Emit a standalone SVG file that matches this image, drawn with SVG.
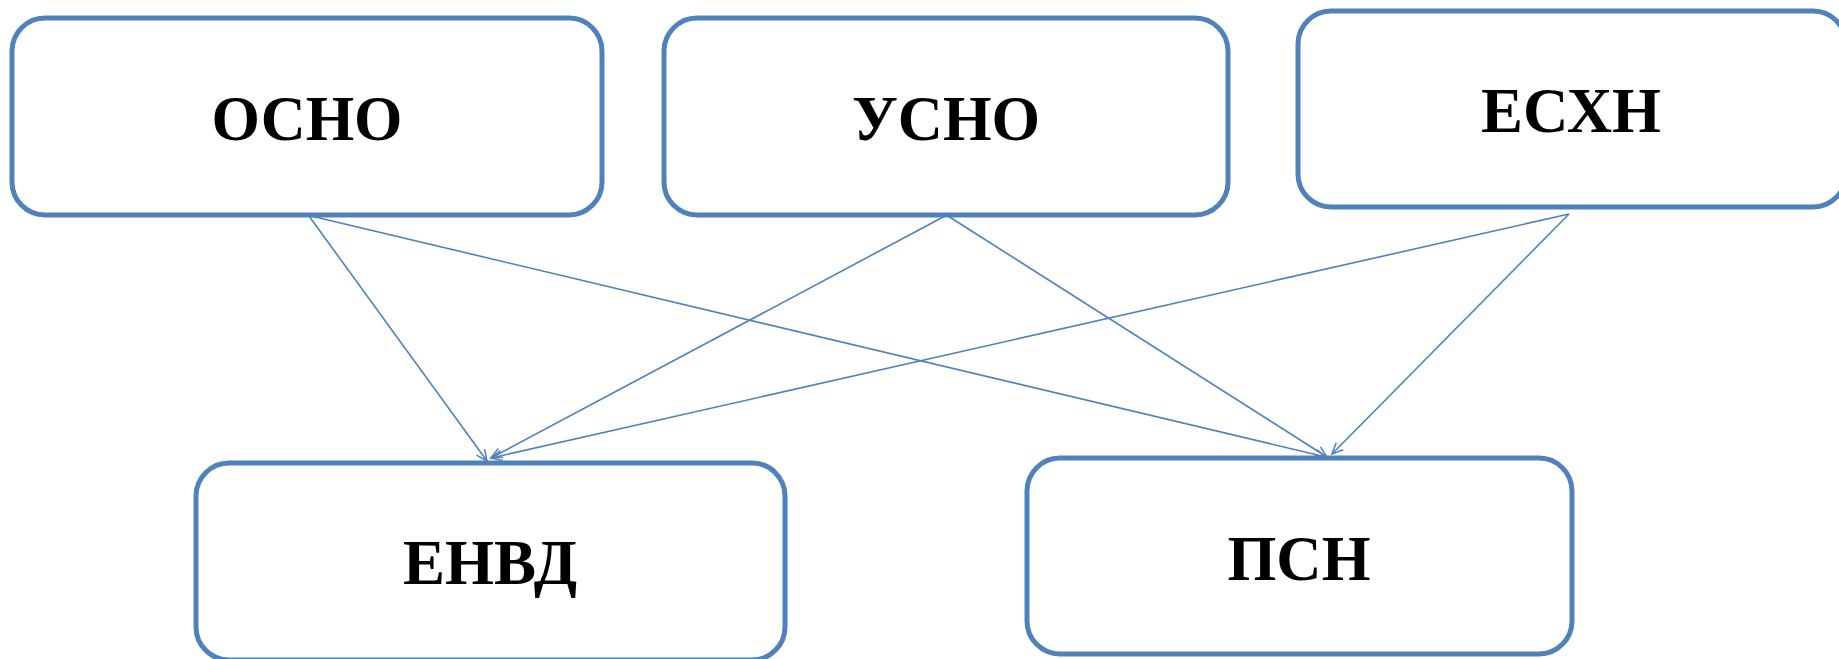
<svg xmlns="http://www.w3.org/2000/svg" width="1839" height="659" viewBox="0 0 1839 659">
<style>
.box{fill:#FFFFFF;stroke:#4F81BD;stroke-width:5}
.lbl{font-family:"Liberation Serif","Times New Roman",serif;font-weight:bold;font-size:64px;fill:#000000;text-anchor:middle}
.con{stroke:#4F81BD;stroke-width:1.6;fill:none}
</style>
<defs>
<marker id="arr" markerUnits="userSpaceOnUse" markerWidth="14" markerHeight="12" refX="12" refY="6" orient="auto">
<path d="M1,1 L12,6 L1,11" fill="none" stroke="#4F81BD" stroke-width="1.5"/>
</marker>
</defs>
<rect width="1839" height="659" fill="#FFFFFF"/>
<g id="connectors">
<line class="con" x1="309" y1="216" x2="487" y2="461" marker-end="url(#arr)"/>
<line class="con" x1="311" y1="216" x2="1326" y2="457" marker-end="url(#arr)"/>
<line class="con" x1="945" y1="216" x2="491" y2="458" marker-end="url(#arr)"/>
<line class="con" x1="948" y1="216" x2="1327" y2="457" marker-end="url(#arr)"/>
<line class="con" x1="1569" y1="214" x2="491" y2="458" marker-end="url(#arr)"/>
<line class="con" x1="1569" y1="214" x2="1332" y2="454" marker-end="url(#arr)"/>
</g>
<g id="node-osno">
<rect class="box" x="12" y="18" width="590" height="197" rx="33"/>
<text class="lbl" x="307" y="140" textLength="191" lengthAdjust="spacingAndGlyphs">ОСНО</text>
</g>
<g id="node-usno">
<rect class="box" x="664" y="18" width="564" height="197" rx="33"/>
<text class="lbl" x="946" y="140" textLength="188" lengthAdjust="spacingAndGlyphs">УСНО</text>
</g>
<g id="node-eshn">
<rect class="box" x="1298" y="11" width="548" height="196" rx="33"/>
<text class="lbl" x="1571" y="132" textLength="180" lengthAdjust="spacingAndGlyphs">ЕСХН</text>
</g>
<g id="node-envd">
<rect class="box" x="196" y="463" width="589" height="197" rx="33"/>
<text class="lbl" x="490" y="584" textLength="174" lengthAdjust="spacingAndGlyphs">ЕНВД</text>
</g>
<g id="node-psn">
<rect class="box" x="1027" y="458" width="545" height="196" rx="33"/>
<text class="lbl" x="1299" y="580" textLength="143" lengthAdjust="spacingAndGlyphs">ПСН</text>
</g>
</svg>
